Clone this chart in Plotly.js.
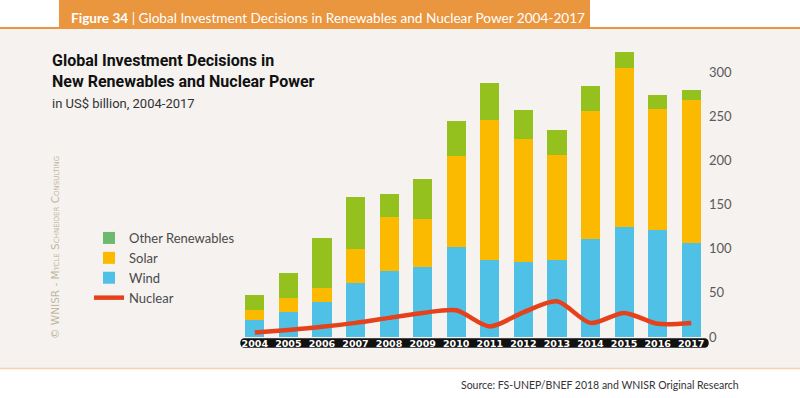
<!DOCTYPE html>
<html>
<head>
<meta charset="utf-8">
<script src="https://cdn.plot.ly/plotly-3.0.1.min.js"></script>
<style>html,body{margin:0;padding:0;background:#fff;}#chart{width:800px;height:398px;}</style>
</head>
<body>
<div id="chart"></div>
<script>
// ---- data (US$ billion) ----
const years = ['2004','2005','2006','2007','2008','2009','2010','2011','2012','2013','2014','2015','2016','2017'];
const wind  = [19.8, 28.5, 39.8, 61.2, 75.0, 79.3, 101.9, 87.6, 84.5, 87.2, 111.0, 124.9, 121.5, 107.1];
const solar = [11.3, 15.8, 15.8, 38.8, 61.5, 54.6, 103.1, 158.4, 139.8, 119.0, 145.3, 179.6, 136.7, 161.3];
const otherRenewables = [16.2, 28.6, 57.2, 59.0, 25.3, 44.8, 39.6, 42.3, 32.7, 28.3, 28.7, 19.2, 16.6, 11.6];
const nuclear = [5.0, 8.0, 11.5, 16.0, 21.7, 27.3, 30.3, 12.0, 28.0, 40.5, 16.0, 27.3, 15.0, 16.0];
const yTicks = [0, 50, 100, 150, 200, 250, 300];

// ---- layout geometry helpers (pixel -> paper) ----
const L = 238, R = 708, T = 46, B = 337;
const W = R - L, H = B - T;
const px = v => (v - L) / W;
const py = v => (B - v) / H;

const cWind = '#4fc1e6', cSolar = '#fbba00', cOther = '#95c11f', cNuc = '#e5421c';

const traces = [
  {type:'bar', name:'Wind', x:years, y:wind, marker:{color:cWind, line:{width:0}}, showlegend:true, legendrank:3, hoverinfo:'y'},
  {type:'bar', name:'Solar', x:years, y:solar, marker:{color:cSolar, line:{width:0}}, showlegend:true, legendrank:2, hoverinfo:'y'},
  {type:'bar', name:'Other Renewables', x:years, y:otherRenewables, marker:{color:cOther, line:{width:0}}, showlegend:false, hoverinfo:'y'},
  {type:'bar', name:'Other Renewables', x:[null], y:[null], marker:{color:'#6cb96f'}, showlegend:true, legendrank:1, hoverinfo:'skip'},
  {type:'scatter', mode:'lines', name:'Nuclear', x:years, y:nuclear, line:{color:cNuc, width:4.5, shape:'spline', smoothing:0.8}, showlegend:true, legendrank:4}
];

// rounded black band behind year labels
const bx0 = px(239), bx1 = px(710), by0 = py(338.3), by1 = py(347.7);
const rx = 5 / W;
const bandPath = `M ${bx0+rx},${by0} L ${bx1-rx},${by0} C ${bx1},${by0} ${bx1},${by1} ${bx1-rx},${by1} L ${bx0+rx},${by1} C ${bx0},${by1} ${bx0},${by0} ${bx0+rx},${by0} Z`;

const layout = {
  width: 800, height: 398,
  margin: {l: L, r: 800 - R, t: T, b: 398 - B, pad: 0},
  paper_bgcolor: '#ffffff',
  plot_bgcolor: 'rgba(0,0,0,0)',
  barmode: 'stack',
  bargap: 0.43,
  font: {family: 'Lato, "Open Sans", sans-serif', color: '#444'},
  xaxis: {
    type: 'category', range: [-0.5, 13.5],
    showgrid: false, zeroline: false, showline: false, ticks: '',
    tickfont: {family: '"DejaVu Sans", Verdana, sans-serif', size: 9.5, color: '#ffffff', weight: 'bold'},
    ticklabelstandoff: -1,
    fixedrange: true
  },
  yaxis: {
    range: [0, 330], side: 'right',
    tickvals: yTicks, ticktext: yTicks.map(String),
    showgrid: true, gridcolor: 'rgba(246,243,236,0.85)', gridwidth: 1,
    zeroline: false, showline: false, ticks: '',
    tickfont: {family: 'Lato, sans-serif', size: 13, color: '#5a5a5a'},
    ticklabelstandoff: 0,
    layer: 'above traces',
    fixedrange: true
  },
  legend: {
    x: px(89), y: py(223), xanchor: 'left', yanchor: 'top',
    bgcolor: 'rgba(0,0,0,0)', borderwidth: 0,
    font: {family: 'Lato, sans-serif', size: 13, color: '#4a4a4a'},
    traceorder: 'normal', tracegroupgap: 0, itemclick: false
  },
  shapes: [
    {type:'rect', xref:'paper', yref:'paper', x0: px(0), x1: px(800), y0: py(368), y1: py(28.5), fillcolor:'#f5f2f0', line:{width:0}, layer:'below'},
    {type:'line', xref:'paper', yref:'paper', x0: px(0), x1: px(800), y0: py(28), y1: py(28), line:{color:'#e9963f', width:2}, layer:'below'},
    {type:'rect', xref:'paper', yref:'paper', x0: px(59), x1: px(590), y0: py(28), y1: py(0), fillcolor:'#e9963f', line:{width:0}, layer:'below'},
    {type:'line', xref:'paper', yref:'paper', x0: px(0), x1: px(800), y0: py(368.5), y1: py(368.5), line:{color:'#f6d3b0', width:1.5}, layer:'below'},
    {type:'path', xref:'paper', yref:'paper', path: bandPath, fillcolor:'#111111', line:{width:0}, layer:'below'}
  ],
  annotations: [
    {xref:'paper', yref:'paper', x: px(69), y: py(18.5), xanchor:'left', yanchor:'middle', showarrow:false,
     text:'<b>Figure 34</b> | Global Investment Decisions in Renewables and Nuclear Power 2004-2017',
     font:{family:'Lato, "Open Sans", sans-serif', size:13.6, color:'#ffffff'}},
    {xref:'paper', yref:'paper', x: px(50), y: py(71), xanchor:'left', yanchor:'middle', align:'left', showarrow:false,
     text:'<b>Global Investment Decisions in<br>New Renewables and Nuclear Power</b>',
     font:{family:'Roboto, sans-serif', size:16, color:'#111111'}},
    {xref:'paper', yref:'paper', x: px(50), y: py(104), xanchor:'left', yanchor:'middle', showarrow:false,
     text:'in US$ billion, 2004-2017',
     font:{family:'Roboto, sans-serif', size:13, color:'#333333'}},
    {xref:'paper', yref:'paper', x: px(55), y: py(248), xanchor:'center', yanchor:'middle', showarrow:false, textangle:-90,
     text:'© WNISR - Mycle Schneider Consulting',
     font:{family:'"DejaVu Sans", sans-serif', size:10.5, color:'#c2b69e', variant:'small-caps'}},
    {xref:'paper', yref:'paper', x: px(741), y: py(385), xanchor:'right', yanchor:'middle', showarrow:false,
     text:'Source: FS-UNEP/BNEF 2018 and WNISR Original Research',
     font:{family:'Lato, sans-serif', size:10.5, color:'#333333'}}
  ]
};

Plotly.newPlot('chart', traces, layout, {displayModeBar:false, staticPlot:true});
</script>
</body>
</html>
